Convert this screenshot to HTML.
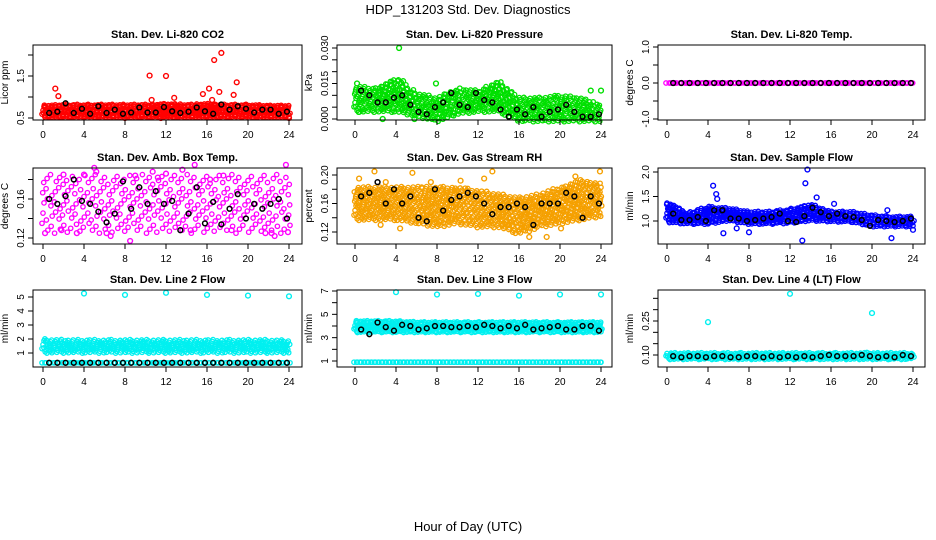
<!DOCTYPE html>
<html><head><meta charset="utf-8">
<style>
body{margin:0;background:#fff;}
svg{display:block;font-family:"Liberation Sans",sans-serif;}
</style></head>
<body>
<svg id="chart" width="936" height="540" viewBox="0 0 936 540">
<text x="468" y="14" text-anchor="middle" font-size="13">HDP_131203  Std. Dev. Diagnostics</text>
<text x="468" y="531" text-anchor="middle" font-size="13">Hour of Day (UTC)</text>
</svg>
<script>
// ---- data ----
const bandHours = [0,2,4,6,8,10,12,14,16,18,20,22,24];
const blackHours = [0.6,1.4,2.2,3.0,3.8,4.6,5.4,6.2,7.0,7.8,8.6,9.4,10.2,11.0,11.8,12.6,13.4,14.2,15.0,15.8,16.6,17.4,18.2,19.0,19.8,20.6,21.4,22.2,23.0,23.8];
const xTicks = [0,4,8,12,16,20,24];

const co2Lo = [0.55,0.55,0.55,0.55,0.55,0.55,0.55,0.55,0.55,0.55,0.55,0.55,0.55];
const co2Hi = [0.76,0.78,0.78,0.78,0.78,0.78,0.8,0.78,0.8,0.78,0.78,0.76,0.76];
const co2OutX = [1.2,1.5,10.4,12.0,16.2,15.6,16.7,17.4,17.2,18.9,18.6,12.8,10.6,8.0,11.5,24.0,16.5];
const co2OutY = [1.2,1.02,1.51,1.5,1.2,1.07,1.88,2.05,1.12,1.35,1.05,0.98,0.93,0.5,0.5,0.5,0.93];
const co2Black = [0.62,0.65,0.85,0.62,0.72,0.6,0.78,0.62,0.7,0.6,0.63,0.75,0.63,0.63,0.76,0.66,0.62,0.65,0.75,0.66,0.6,0.82,0.7,0.78,0.72,0.63,0.7,0.7,0.6,0.65];

const presLo = [0.004,0.004,0.004,0.002,0.000,0.003,0.004,0.004,0.000,0.000,0.000,0.000,0.000];
const presHi = [0.013,0.012,0.016,0.010,0.008,0.012,0.011,0.015,0.008,0.008,0.009,0.008,0.005];
const presOutX = [0.2,0.4,4.3,4.7,2.7,5.8,24.0,13.7,23.0,7.9];
const presOutY = [0.015,0.003,0.030,0.016,0.0,0.0,0.012,0.012,0.012,0.015];
const presBlack = [0.012,0.010,0.007,0.007,0.009,0.010,0.006,0.003,0.002,0.005,0.007,0.011,0.006,0.005,0.011,0.008,0.007,0.004,0.001,0.004,0.002,0.005,0.001,0.003,0.004,0.006,0.003,0.001,0.001,0.002];

const tempLo = [0,0,0,0,0,0,0,0,0,0,0,0,0];
const tempHi = [0,0,0,0,0,0,0,0,0,0,0,0,0];
const tempBlack = [0,0,0,0,0,0,0,0,0,0,0,0,0,0,0,0,0,0,0,0,0,0,0,0,0,0,0,0,0,0];

const ambLo = [0.13,0.13,0.13,0.13,0.13,0.13,0.13,0.13,0.13,0.13,0.13,0.13,0.13];
const ambHi = [0.18,0.18,0.18,0.18,0.18,0.18,0.18,0.18,0.18,0.18,0.18,0.18,0.18];
const ambOutX = [0.2,1.8,2.0,3.3,5.0,5.2,6.2,6.6,8.5,10.7,12.0,13.6,14.4,14.8,16.3,17.6,18.4,21.7,22.3,22.6,23.7,23.9,4.0,9.0,11.2];
const ambOutY = [0.125,0.128,0.185,0.125,0.192,0.188,0.125,0.122,0.117,0.188,0.186,0.19,0.128,0.195,0.18,0.184,0.128,0.125,0.125,0.122,0.195,0.126,0.185,0.184,0.182];
const ambBlack = [0.16,0.155,0.163,0.18,0.158,0.155,0.147,0.136,0.145,0.178,0.15,0.172,0.155,0.168,0.155,0.158,0.128,0.145,0.172,0.135,0.157,0.134,0.15,0.165,0.14,0.155,0.15,0.155,0.16,0.14];

const rhLo = [0.14,0.14,0.14,0.135,0.13,0.135,0.13,0.13,0.12,0.13,0.135,0.14,0.145];
const rhHi = [0.18,0.18,0.18,0.18,0.18,0.18,0.175,0.17,0.165,0.17,0.18,0.19,0.185];
const rhOutX = [0.4,1.9,2.5,4.4,5.6,7.4,12.6,13.4,17.0,18.7,20.1,21.5,23.9,3.0,10.3];
const rhOutY = [0.195,0.205,0.13,0.125,0.203,0.19,0.195,0.205,0.113,0.113,0.125,0.198,0.205,0.19,0.192];
const rhBlack = [0.17,0.175,0.19,0.16,0.18,0.16,0.17,0.14,0.135,0.18,0.15,0.165,0.17,0.175,0.17,0.16,0.145,0.155,0.155,0.16,0.155,0.13,0.16,0.16,0.16,0.175,0.17,0.14,0.17,0.16];

const flowLo = [1.02,0.98,0.98,1.05,0.98,0.98,1.0,1.05,1.03,1.02,0.93,0.93,0.93];
const flowHi = [1.35,1.12,1.25,1.22,1.15,1.15,1.2,1.3,1.15,1.15,1.08,1.05,1.05];
const flowOutX = [4.5,4.8,4.9,5.5,13.2,13.5,13.7,14.6,16.3,21.9,24.0,21.5,8.0,6.8,0.1];
const flowOutY = [1.72,1.55,1.45,0.75,0.6,1.77,2.05,1.48,1.35,0.65,0.82,1.22,0.77,0.85,1.25];
const flowBlack = [1.15,1.02,1.02,1.08,1.0,1.22,1.22,1.05,1.05,1.0,1.02,1.05,1.08,1.15,1.0,0.98,1.1,1.27,1.18,1.1,1.15,1.1,1.08,1.02,0.9,1.02,1.0,0.98,1.0,1.05];

const l2LoA = [1.15,1.15,1.15,1.15,1.15,1.15,1.15,1.15,1.15,1.15,1.15,1.15,1.15];
const l2HiA = [1.85,1.8,1.8,1.8,1.8,1.8,1.8,1.8,1.8,1.8,1.8,1.8,1.75];
const l2LoB = [0.3,0.3,0.3,0.3,0.3,0.3,0.3,0.3,0.3,0.3,0.3,0.3,0.3];
const l2HiB = [0.3,0.3,0.3,0.3,0.3,0.3,0.3,0.3,0.3,0.3,0.3,0.3,0.3];
const l2OutX = [4,8,12,16,20,24];
const l2OutY = [5.25,5.15,5.3,5.15,5.1,5.05];
const l2Black = [0.3,0.3,0.3,0.3,0.3,0.3,0.3,0.3,0.3,0.3,0.3,0.3,0.3,0.3,0.3,0.3,0.3,0.3,0.3,0.3,0.3,0.3,0.3,0.3,0.3,0.3,0.3,0.3,0.3,0.3];

const l3LoA = [3.6,3.6,3.6,3.6,3.6,3.6,3.6,3.6,3.6,3.6,3.6,3.6,3.6];
const l3HiA = [4.3,4.3,4.3,4.2,4.2,4.2,4.2,4.2,4.2,4.2,4.2,4.2,4.2];
const l3LoB = [0.9,0.9,0.9,0.9,0.9,0.9,0.9,0.9,0.9,0.9,0.9,0.9,0.9];
const l3HiB = [1.0,1.0,1.0,1.0,1.0,1.0,1.0,1.0,1.0,1.0,1.0,1.0,1.0];
const l3OutX = [4,8,12,16,20,24];
const l3OutY = [6.9,6.7,6.75,6.6,6.7,6.7];
const l3Black = [3.7,3.3,4.3,3.9,3.6,4.1,4.0,3.7,3.8,4.0,4.0,3.9,3.9,4.0,3.9,4.1,4.0,3.8,4.0,3.8,4.1,3.7,3.8,3.9,4.0,3.7,3.7,4.0,4.0,3.6];

const l4Lo = [0.088,0.088,0.088,0.088,0.088,0.088,0.088,0.088,0.088,0.088,0.088,0.088,0.088];
const l4Hi = [0.102,0.102,0.102,0.102,0.102,0.102,0.102,0.102,0.102,0.102,0.102,0.102,0.102];
const l4OutX = [4,12,20,19.5];
const l4OutY = [0.245,0.37,0.285,0.11];
const l4Black = [0.095,0.09,0.095,0.095,0.09,0.095,0.095,0.09,0.09,0.095,0.095,0.09,0.095,0.09,0.095,0.09,0.095,0.09,0.095,0.1,0.095,0.095,0.095,0.1,0.095,0.09,0.095,0.09,0.1,0.095];

// ---- layout ----
const cols = [{l:33,r:302,x0:43,x24:289},{l:337,r:612,x0:355,x24:601},{l:658,r:925,x0:667,x24:913}];
const rows = [{t:45,b:120},{t:168,b:244},{t:290,b:367}];
const svg = document.getElementById('chart');
const NS = 'http://www.w3.org/2000/svg';

const panels = [
 {c:0,r:0,title:'Stan. Dev. Li-820 CO2',ylab:'Licor ppm',v:[0.5,1.5],p:[118,76],ticks:[0.5,1,1.5,2],tl:['0.5','','1.5',''],color:'#ff0000',bands:[[co2Lo,co2Hi,0.1,4]],ox:co2OutX,oy:co2OutY,black:co2Black},
 {c:1,r:0,title:'Stan. Dev. Li-820 Pressure',ylab:'kPa',v:[0,0.03],p:[119,48],ticks:[0,0.005,0.01,0.015,0.02,0.025,0.03],tl:['0.000','','','0.015','','','0.030'],color:'#00e000',bands:[[presLo,presHi,0.14,6]],ox:presOutX,oy:presOutY,black:presBlack},
 {c:2,r:0,title:'Stan. Dev. Li-820 Temp.',ylab:'degrees C',v:[-1,1],p:[119,47],ticks:[-1,-0.5,0,0.5,1],tl:['-1.0','','0.0','','1.0'],color:'#ff00ff',bands:[[tempLo,tempHi,0.15,4]],ox:[],oy:[],black:tempBlack},
 {c:0,r:1,title:'Stan. Dev. Amb. Box Temp.',ylab:'degrees C',v:[0.12,0.16],p:[238,199],ticks:[0.12,0.14,0.16,0.18],tl:['0.12','','0.16',''],color:'#ff00ff',bands:[[ambLo,ambHi,0.4,11]],ox:ambOutX,oy:ambOutY,black:ambBlack},
 {c:1,r:1,title:'Stan. Dev. Gas Stream RH',ylab:'percent',v:[0.12,0.20],p:[232,175],ticks:[0.12,0.14,0.16,0.18,0.2],tl:['0.12','','0.16','','0.20'],color:'#f5a000',bands:[[rhLo,rhHi,0.15,6]],ox:rhOutX,oy:rhOutY,black:rhBlack},
 {c:2,r:1,title:'Stan. Dev. Sample Flow',ylab:'ml/min',v:[1,2],p:[221,172],ticks:[1,1.5,2],tl:['1.0','1.5','2.0'],color:'#0000ff',bands:[[flowLo,flowHi,0.1,5]],ox:flowOutX,oy:flowOutY,black:flowBlack},
 {c:0,r:2,title:'Stan. Dev. Line 2 Flow',ylab:'ml/min',v:[1,5],p:[353,297],ticks:[1,2,3,4,5],tl:['1','2','3','4','5'],color:'#00f0f0',bands:[[l2LoA,l2HiA,0.15,5],[l2LoB,l2HiB,0.12,4]],ox:l2OutX,oy:l2OutY,black:l2Black},
 {c:1,r:2,title:'Stan. Dev. Line 3 Flow',ylab:'ml/min',v:[1,7],p:[361,291],ticks:[1,2,3,4,5,6,7],tl:['1','','3','','5','','7'],color:'#00f0f0',bands:[[l3LoA,l3HiA,0.1,4],[l3LoB,l3HiB,0.1,4]],ox:l3OutX,oy:l3OutY,black:l3Black},
 {c:2,r:2,title:'Stan. Dev. Line 4 (LT) Flow',ylab:'ml/min',v:[0.1,0.25],p:[355,321],ticks:[0.1,0.15,0.2,0.25,0.3,0.35],tl:['0.10','','','0.25','',''],color:'#00f0f0',bands:[[l4Lo,l4Hi,0.12,4]],ox:l4OutX,oy:l4OutY,black:l4Black}
];

function interp(arr, h){
  for(let i=0;i<bandHours.length-1;i++){
    if(h<=bandHours[i+1]){const f=(h-bandHours[i])/(bandHours[i+1]-bandHours[i]);return arr[i]+(arr[i+1]-arr[i])*f;}
  }
  return arr[arr.length-1];
}

panels.forEach((P,pi)=>{
  const C=cols[P.c], R=rows[P.r];
  const X=h=>C.x0+(C.x24-C.x0)*h/24;
  const Y=v=>P.p[0]+(P.p[1]-P.p[0])*(v-P.v[0])/(P.v[1]-P.v[0]);
  const g=document.createElementNS(NS,'g');
  
  
  svg.appendChild(g);
  function add(tag,attrs){const e=document.createElementNS(NS,tag);for(const k in attrs)e.setAttribute(k,attrs[k]);g.appendChild(e);return e;}
  const t=add('text',{x:(C.l+C.r)/2,y:R.t-7,'text-anchor':'middle','font-size':'11','font-weight':'bold'});
  t.textContent=P.title;
  
  
  const yl=add('text',{x:0,y:0,'text-anchor':'middle','font-size':'10',transform:`translate(${C.l-25},${(R.t+R.b)/2}) rotate(-90)`});
  yl.textContent=P.ylab;
  
  
  P.bands.forEach(B=>{
    const lo=B[0],hi=B[1],step=B[2],sp=B[3];
    let k=0;
    for(let h=0;h<=24.0001;h+=step){
      const ya=Y(interp(lo,h)),yb=Y(interp(hi,h));
      const span=Math.abs(ya-yb);
      const n=Math.max(0,Math.round(span/sp));
      for(let j=0;j<=n;j++){
        const jit=(((k*7+j*13)%11)/10-0.5);
        const yy=(n===0)?ya:ya+(yb-ya)*(j/n)+jit*sp*0.9;
        const xx=X(h)+(((k*5+j*3)%7)/6-0.5)*2;
        const c=add('circle',{cx:xx.toFixed(1),cy:yy.toFixed(1),r:2.2,fill:'none',stroke:P.color,'stroke-width':1.3});
        
        
      }
      k++;
    }
  });
  P.ox.forEach((h,i)=>{
    const c=add('circle',{cx:X(h),cy:Y(P.oy[i]),r:2.4,fill:'none',stroke:P.color,'stroke-width':1.4});
    
    
  });
  P.black.forEach((v,i)=>{
    const c=add('circle',{cx:X(blackHours[i]),cy:Y(v),r:2.4,fill:'none',stroke:'#000','stroke-width':1.5});
    
    
  });
  const bx=add('rect',{x:C.l,y:R.t,width:C.r-C.l,height:R.b-R.t,fill:'none',stroke:'#000','stroke-width':1});
  
  
  add('line',{x1:X(0),x2:X(24),y1:R.b,y2:R.b,stroke:'#000'});
  xTicks.forEach(h=>{
    add('line',{x1:X(h),x2:X(h),y1:R.b,y2:R.b+5,stroke:'#000'});
    const tx=add('text',{x:X(h),y:R.b+18,'text-anchor':'middle','font-size':'10'});
    tx.textContent=String(h);
    
    
  });
  P.ticks.forEach((v,i)=>{
    add('line',{x1:C.l-5,x2:C.l,y1:Y(v),y2:Y(v),stroke:'#000'});
    if(P.tl[i]){
      const ty=add('text',{x:0,y:0,'text-anchor':'middle','font-size':'10',transform:`translate(${C.l-9},${Y(v)}) rotate(-90)`});
      ty.textContent=P.tl[i];
      
      
    }
  });
});
</script>
</body></html>
